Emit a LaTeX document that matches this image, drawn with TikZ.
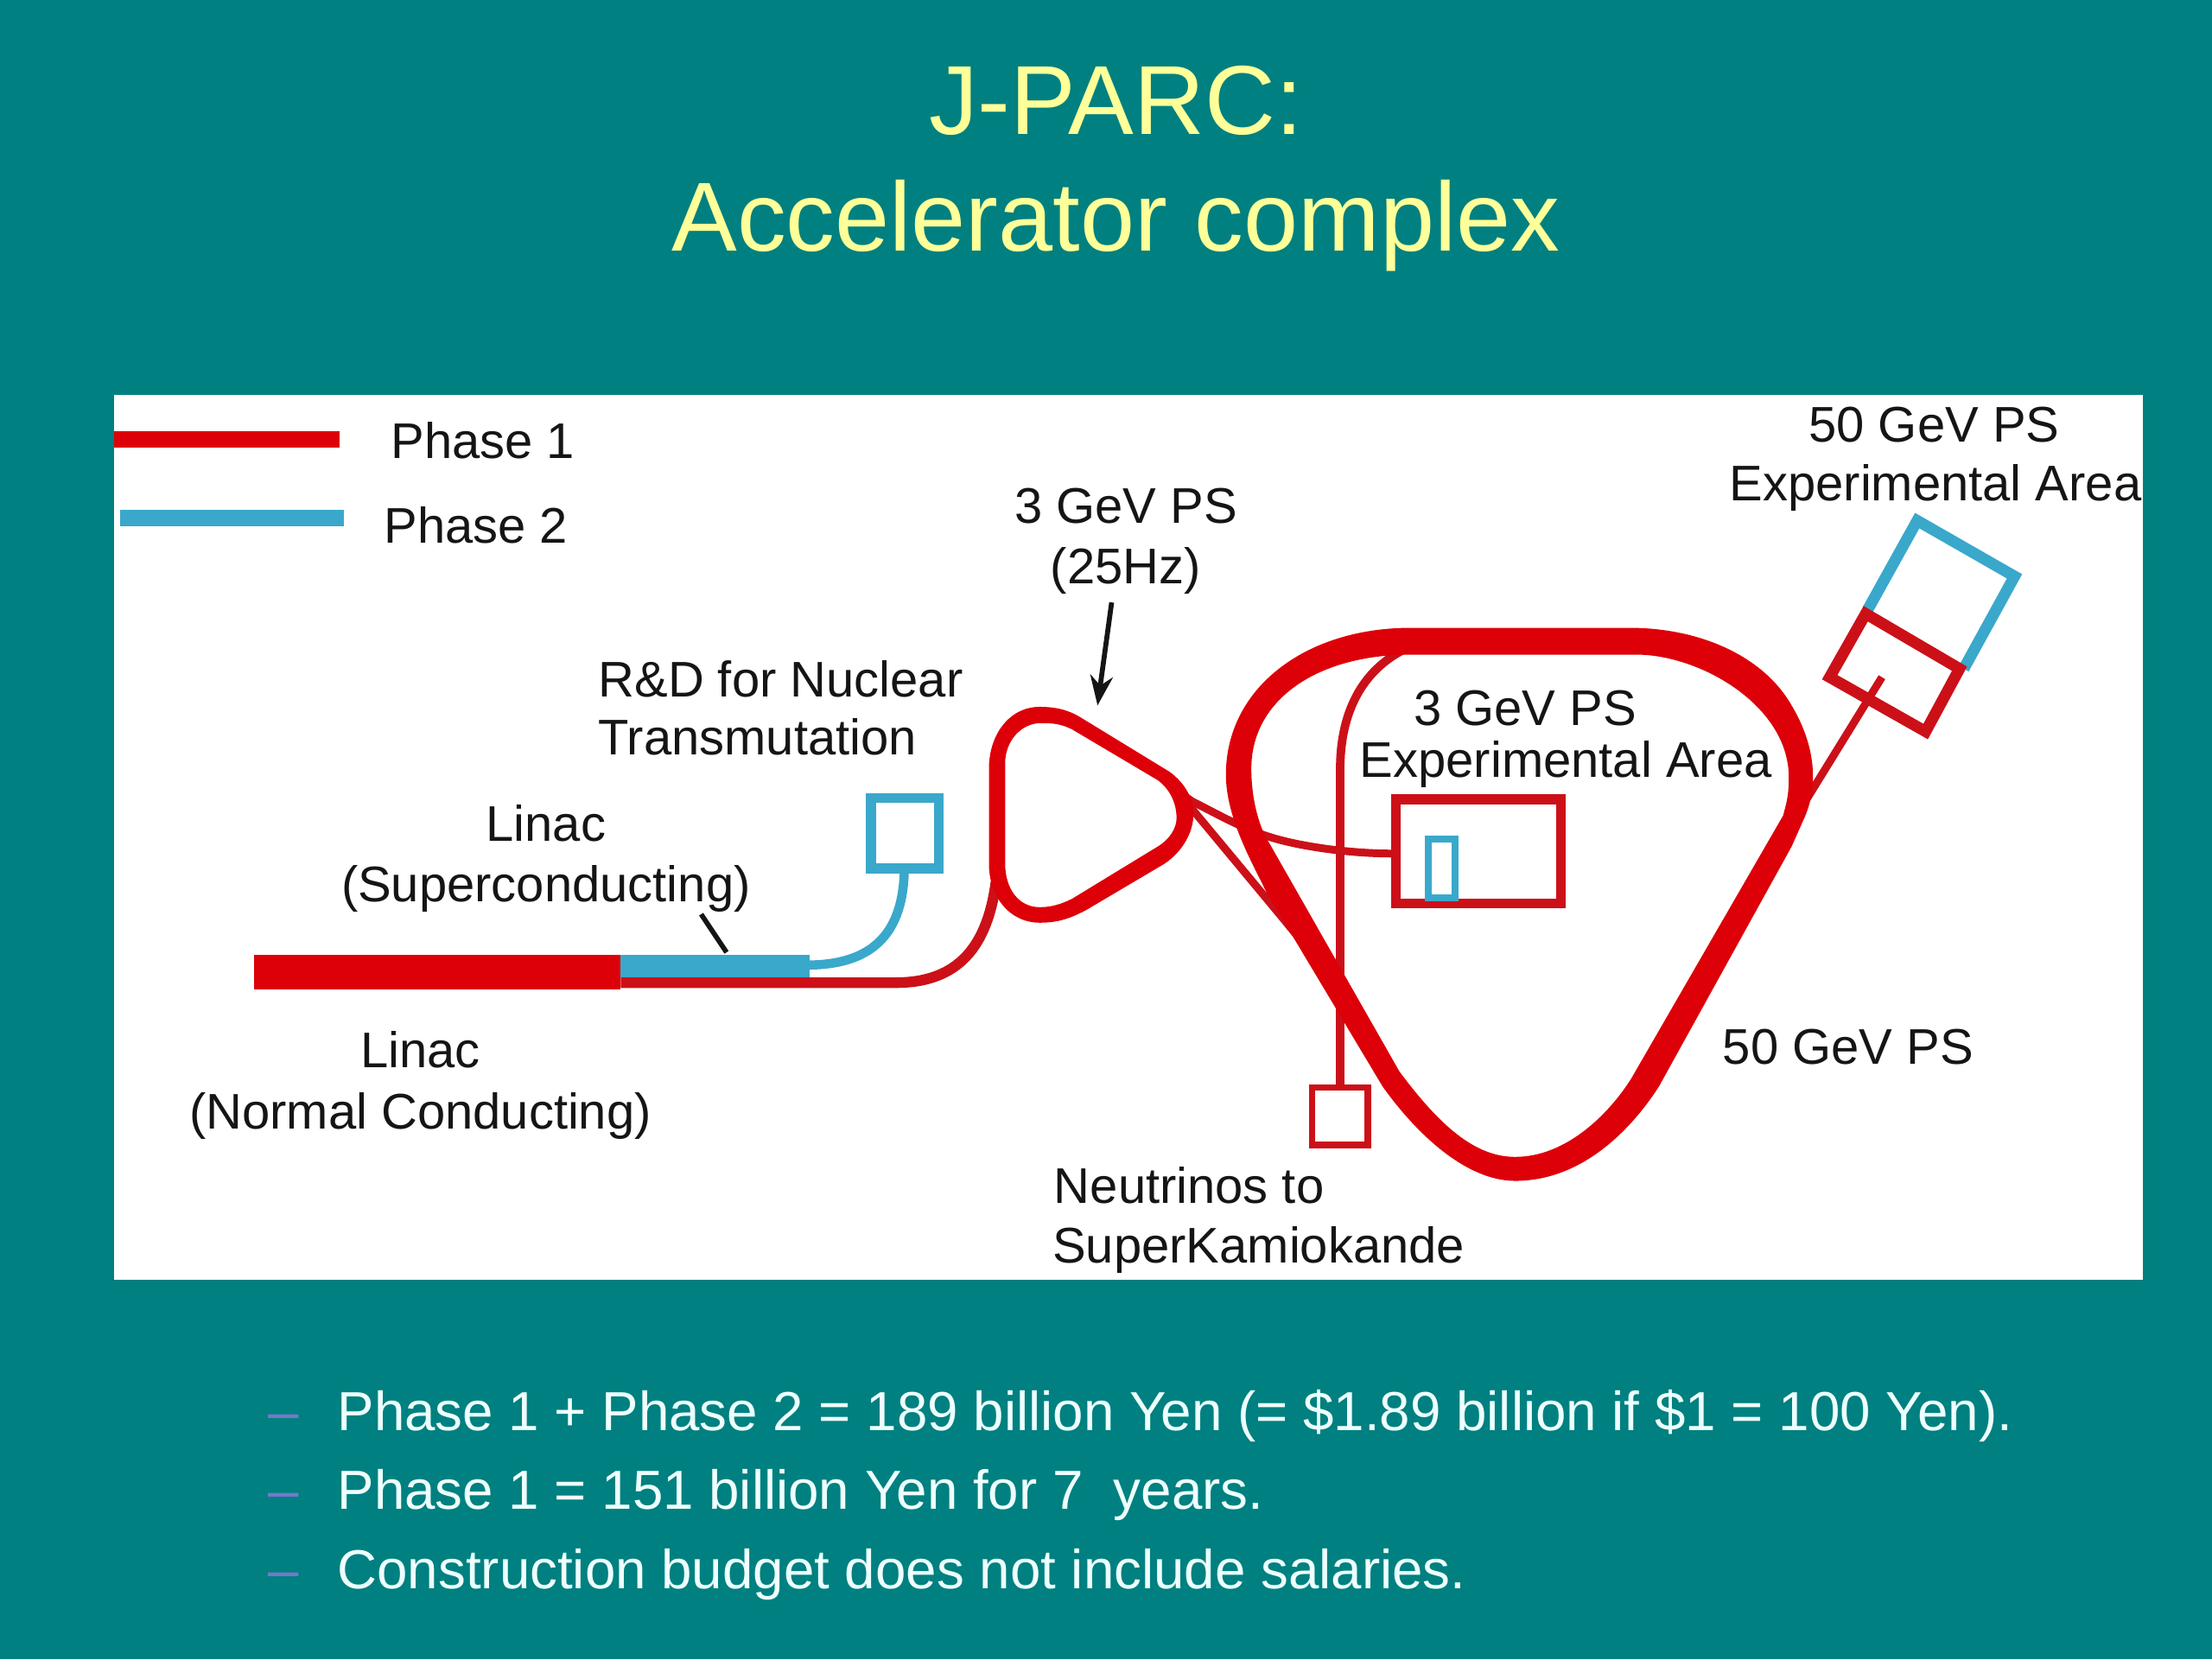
\documentclass[tikz,border=0pt]{standalone}
\usepackage{fontspec}
\setmainfont{Liberation Sans}
\usetikzlibrary{arrows.meta}
\definecolor{teal0}{HTML}{008080}
\definecolor{titley}{HTML}{FFFF99}
\definecolor{bul}{HTML}{EEFFFF}
\definecolor{dashc}{HTML}{7777CC}
\definecolor{redA}{HTML}{DD0008}
\definecolor{redB}{HTML}{CC1018}
\definecolor{blueA}{HTML}{3AA8CB}
\definecolor{ink}{HTML}{151515}
\tikzset{
  x=1pt,y=-1pt,
  titletext/.style={anchor=base,inner sep=0pt,text=titley,font=\fontsize{69.5}{69.5}\selectfont},
  lab/.style={anchor=base,inner sep=0pt,text=ink,font=\fontsize{35.5}{35.5}\selectfont},
  labl/.style={lab,anchor=base west},
  bullet/.style={anchor=base west,inner sep=0pt,text=bul,font=\fontsize{39}{39}\selectfont},
  bdash/.style={anchor=base west,inner sep=0pt,text=dashc,font=\fontsize{39}{39}\selectfont},
  ringfill/.style={fill=redA,even odd rule},
  thinred/.style={draw=redB,line width=5.5pt},
  redbox/.style={draw=redB,line width=6pt,line join=miter},
  bluebox/.style={draw=blueA,line width=7pt,line join=miter},
}
\begin{document}
\begin{tikzpicture}
\useasboundingbox (0,0) rectangle (1568,1176);
\fill[teal0] (0,0) rectangle (1568,1176);
\fill[white] (81,280) rectangle (1519,907);
% title
\node[titletext] (t1) at (791,95) {J-PARC:};
\node[titletext] (t2) at (791,178) {Accelerator complex};
% legend
\fill[redA] (81,305.5) rectangle (241,317);
\fill[blueA] (85,361.5) rectangle (244,373);
\node[labl] (p1) at (277,325) {Phase 1};
\node[labl] (p2) at (272,385) {Phase 2};
% experimental boxes
\draw[thinred,line width=6pt] (994,461) .. controls (962,478) and (950,510) .. (950,545) -- (950,771);
\draw[redbox,line width=4.5pt] (930,771) rectangle (969.5,811.5);
\draw[redbox,line width=7pt] (989.5,566.5) rectangle (1106.5,640.5);
\draw[bluebox,line width=5pt] (1012.5,594.5) rectangle (1031.5,636.5);
% transfer lines
\draw[thinred] (838,563) -- (845,568) .. controls (865,578) and (885,590) .. (910,596) .. controls (930,601) and (960,605) .. (987,605);
\draw[thinred] (843,571) -- (909.5,651) -- (925,670) -- (955,722);
\draw[thinred] (1276,574) -- (1334,480);
% linac
\draw[thinred,line width=7.5pt] (440,696.5) -- (635,696.5) .. controls (680,696.5) and (700,670) .. (706,625);
\draw[draw=blueA,line width=6.5pt] (572,684) .. controls (615,684) and (640,665) .. (641,617);
\fill[redA] (180,677) rectangle (440,701);
\fill[blueA] (440,677) rectangle (574,693);
\draw[bluebox] (617.5,565.5) rectangle (665.5,615.5);
% rings
\fill[ringfill]
  (737,501) .. controls (748,501) and (757,503) .. (766,508.5) -- (829,547)
  .. controls (840,555) and (846,566) .. (846,577) .. controls (846,590) and (838,604) .. (825,612.5)
  -- (770,645) .. controls (757,652) and (748,654) .. (737,654)
  .. controls (716,654) and (701,636) .. (701,612) -- (701,545)
  .. controls (701,520) and (716,501) .. (737,501) -- cycle
  (738,512.5) .. controls (746,512.5) and (752,513) .. (760,517) -- (820.7,553)
  .. controls (830,560) and (834,570) .. (834,580) .. controls (834,587) and (829,595) .. (820.7,600)
  -- (760,637) .. controls (752,641) and (745,643) .. (737,643)
  .. controls (722,643) and (712.5,630) .. (712.5,612) -- (712.5,541)
  .. controls (712.5,525) and (724,512.5) .. (738,512.5) -- cycle;
\fill[ringfill]
  (1000,445) -- (1155,445)
  .. controls (1205,445) and (1250,465) .. (1270,500)
  .. controls (1285,525) and (1291,555) .. (1278,582)
  -- (1270,600) -- (1176,770)
  .. controls (1160,795) and (1125,837) .. (1074,837)
  .. controls (1040,837) and (1005,805) .. (980,770)
  -- (898,633)
  .. controls (888,612) and (869,580) .. (869,549)
  .. controls (869,488) and (925,445) .. (1000,445) -- cycle
  (1000,464) -- (1160,464)
  .. controls (1205,464) and (1268,500) .. (1268,551)
  .. controls (1268,565) and (1266,570) .. (1264,578)
  -- (1156,765)
  .. controls (1140,790) and (1110,820) .. (1074,820)
  .. controls (1045,820) and (1020,797) .. (992,759.5)
  -- (900,598)
  .. controls (892,586) and (887,565) .. (887,545)
  .. controls (887,495) and (935,464) .. (1000,464) -- cycle;
% 50 GeV area
\draw[bluebox,line width=8pt] (1324,432) -- (1359,369) -- (1428,408.5) -- (1392,474);
\draw[redbox,line width=8pt] (1322.5,435) -- (1389,474) -- (1365,518.5) -- (1297,480) -- cycle;
% labels and pointers
\node[lab] (g3) at (798,371) {3 GeV PS};
\node[lab] (g3b) at (798,414) {(25Hz)};
\coordinate (g3tip) at (778,500);
\coordinate (g3tail) at (788,427);
\draw[-{Stealth[length=21pt,width=16pt]},line width=3.5pt,ink] (g3tail) -- (g3tip);
\node[lab] (e50a) at (1371,313) {50 GeV PS};
\node[lab] (e50b) at (1372,355) {Experimental Area};
\node[labl] (rd1) at (424,494) {R\&D for Nuclear};
\node[labl] (rd2) at (424,535) {Transmutation};
\node[lab] (sc1) at (387,596) {Linac};
\node[lab] (sc2) at (387,639) {(Superconducting)};
\coordinate (sctickA) at (497,648);
\coordinate (sctickB) at (515,675);
\draw[line width=3.5pt,ink] (sctickA) -- (sctickB);
\node[lab] (e3a) at (1081,514) {3 GeV PS};
\node[lab] (e3b) at (1110,551) {Experimental Area};
\node[lab] (nc1) at (298,757) {Linac};
\node[lab] (nc2) at (298,800) {(Normal Conducting)};
\node[lab] (g50) at (1310,754) {50 GeV PS};
\node[labl] (nu1) at (747,853) {Neutrinos to};
\node[labl] (nu2) at (746,895) {SuperKamiokande};
% bullets
\node[bdash] (d1) at (190,1014) {–};
\node[bdash] (d2) at (190,1070) {–};
\node[bdash] (d3) at (190,1126) {–};
\node[bullet] (b1) at (239,1014) {Phase 1 + Phase 2 = 189 billion Yen (= \$1.89 billion if \$1 = 100 Yen).};
\node[bullet] (b2) at (239,1070) {Phase 1 = 151 billion Yen for 7\ \ years.};
\node[bullet] (b3) at (239,1126) {Construction budget does not include salaries.};
\end{tikzpicture}
\end{document}
